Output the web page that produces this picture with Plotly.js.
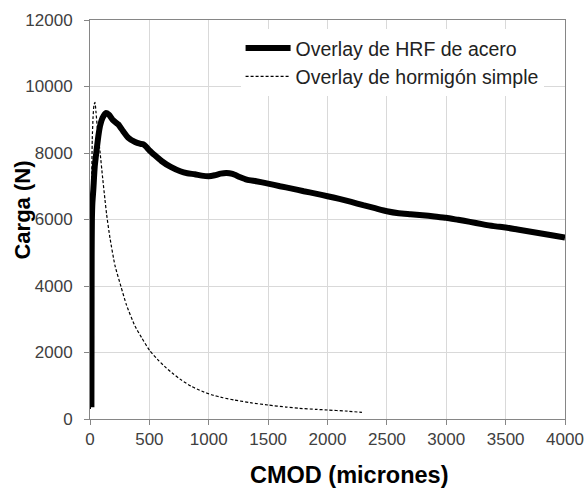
<!DOCTYPE html>
<html>
<head>
<meta charset="utf-8">
<script src="https://cdn.plot.ly/plotly-3.0.1.min.js"></script>
<style>html,body{margin:0;padding:0;background:#fff;}#chart{width:585px;height:489px;}</style>
</head>
<body>
<div id="chart"></div>
<script>
const seriesNames = ["Overlay de HRF de acero", "Overlay de hormigón simple"];
const xTitle = "CMOD (micrones)";
const yTitle = "Carga (N)";

const steelX = [12, 13, 14, 16, 20, 28, 40, 56, 70, 84, 105, 132, 160, 190, 238, 280, 322, 380, 420, 448, 470, 500, 540, 602, 680, 760, 820, 882, 940, 1000, 1050, 1100, 1150, 1200, 1260, 1320, 1400, 1500, 1600, 1700, 1800, 1900, 2000, 2100, 2200, 2300, 2400, 2500, 2600, 2700, 2800, 2900, 3000, 3100, 3200, 3300, 3400, 3500, 3600, 3700, 3800, 3900, 4000];
const steelY = [350, 2500, 4900, 6000, 6500, 6900, 7600, 8100, 8500, 8810, 9050, 9200, 9150, 9000, 8860, 8650, 8460, 8330, 8280, 8260, 8200, 8080, 7950, 7760, 7580, 7450, 7390, 7360, 7320, 7300, 7330, 7380, 7400, 7370, 7280, 7200, 7150, 7080, 7000, 6930, 6850, 6780, 6700, 6620, 6530, 6430, 6340, 6250, 6190, 6160, 6130, 6090, 6050, 5990, 5930, 5860, 5800, 5760, 5700, 5640, 5580, 5520, 5460];

const plainX = [3, 8, 14, 19, 26, 34, 42, 50, 62, 84, 105, 126, 140, 168, 210, 261, 308, 378, 434, 504, 580, 644, 700, 770, 854, 940, 1022, 1120, 1218, 1350, 1500, 1650, 1765, 1900, 2000, 2150, 2290];
const plainY = [300, 4000, 7000, 8400, 9100, 9450, 9520, 9250, 8750, 8050, 7300, 6600, 6150, 5450, 4620, 3980, 3420, 2800, 2450, 2050, 1750, 1530, 1360, 1170, 980, 840, 730, 640, 570, 490, 420, 360, 320, 290, 270, 240, 200];

const xTicks = [0, 500, 1000, 1500, 2000, 2500, 3000, 3500, 4000];
const yTicks = [0, 2000, 4000, 6000, 8000, 10000, 12000];

const font = "Arial, 'Liberation Sans', sans-serif";

const traces = [
  {x: steelX, y: steelY, mode: "lines", name: seriesNames[0],
   line: {color: "#000", width: 6, shape: "spline", smoothing: 0.5}},
  {x: plainX, y: plainY, mode: "lines", name: seriesNames[1],
   line: {color: "#000", width: 1.2, dash: "3px,2px", shape: "spline", smoothing: 0.5}}
];

const axisCommon = {
  showline: true, linecolor: "#868686", linewidth: 1, mirror: true,
  showgrid: true, gridcolor: "#d9d9d9", gridwidth: 1,
  ticks: "outside", ticklen: 5, tickcolor: "#868686",
  zeroline: false,
  tickfont: {family: font, size: 17, color: "#404040"}
};

const layout = {
  width: 585, height: 489,
  paper_bgcolor: "#fff", plot_bgcolor: "#fff",
  margin: {l: 90, r: 20, t: 20, b: 70},
  showlegend: true,
  legend: {x: 0.317, y: 0.978, xanchor: "left", yanchor: "top",
           bgcolor: "#fff", borderwidth: 0, itemwidth: 45,
           font: {family: font, size: 19.5, color: "#222"},
           tracegroupgap: 0},
  xaxis: Object.assign({}, axisCommon, {
    range: [0, 4000], tickvals: xTicks, ticktext: xTicks.map(String)
  }),
  yaxis: Object.assign({}, axisCommon, {
    range: [0, 12000], tickvals: yTicks, ticktext: yTicks.map(String),
    ticklabelstandoff: 8
  }),
  annotations: [
    {text: xTitle, xref: "paper", yref: "paper", x: 0.545, y: -0.141,
     xanchor: "center", yanchor: "middle", showarrow: false,
     font: {family: font, size: 23.5, color: "#000", weight: "bold"}},
    {text: yTitle, xref: "paper", yref: "paper", x: -0.143, y: 0.5226,
     xanchor: "center", yanchor: "middle", showarrow: false, textangle: -90,
     font: {family: font, size: 22, color: "#000", weight: "bold"}}
  ]
};

Plotly.newPlot("chart", traces, layout, {staticPlot: true, displayModeBar: false});
</script>
</body>
</html>
